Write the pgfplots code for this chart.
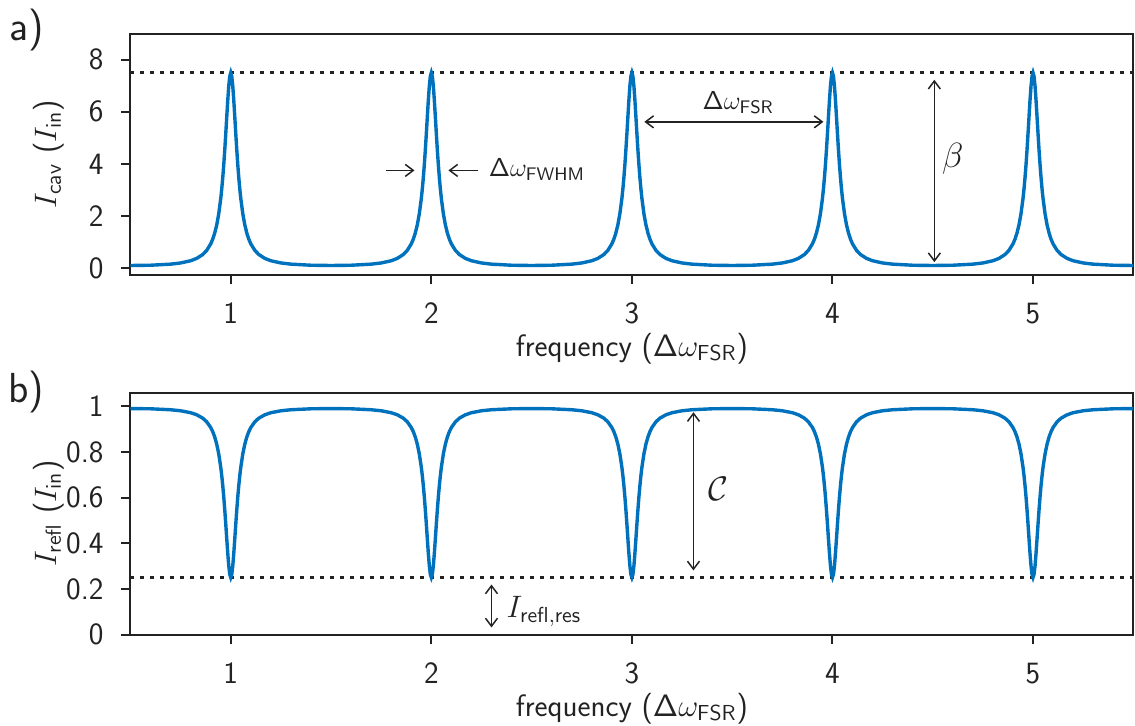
\RequirePackage{fix-cm}
\documentclass[border=0pt]{standalone}
\usepackage{pgfplots}
\pgfplotsset{compat=1.18}
\usepackage{pgfplotstable}
\usetikzlibrary{arrows.meta}
\renewcommand{\familydefault}{\sfdefault}
\definecolor{curve}{HTML}{0072BD}
\definecolor{ink}{HTML}{222222}

% Airy response of the cavity: intracavity and reflected intensity
\pgfplotstableread{
x cav refl
0.5 0.1000 0.9900
0.6 0.1104 0.9890
0.7 0.1517 0.9848
0.75 0.1974 0.9803
0.8 0.2823 0.9718
0.83 0.3718 0.9628
0.86 0.5203 0.9480
0.88 0.6801 0.9320
0.9 0.9298 0.9070
0.91 1.1095 0.8890
0.92 1.3449 0.8655
0.93 1.6588 0.8341
0.94 2.0843 0.7916
0.95 2.6681 0.7332
0.955 3.0375 0.6963
0.96 3.4684 0.6532
0.965 3.9659 0.6034
0.97 4.5307 0.5469
0.975 5.1527 0.4847
0.98 5.8061 0.4194
0.985 6.4421 0.3558
0.99 6.9897 0.3010
0.995 7.3655 0.2634
1.0 7.5000 0.2500
1.005 7.3655 0.2634
1.01 6.9897 0.3010
1.015 6.4421 0.3558
1.02 5.8061 0.4194
1.025 5.1527 0.4847
1.03 4.5307 0.5469
1.035 3.9659 0.6034
1.04 3.4684 0.6532
1.045 3.0375 0.6963
1.05 2.6681 0.7332
1.06 2.0843 0.7916
1.07 1.6588 0.8341
1.08 1.3449 0.8655
1.09 1.1095 0.8890
1.1 0.9298 0.9070
1.12 0.6801 0.9320
1.14 0.5203 0.9480
1.17 0.3718 0.9628
1.2 0.2823 0.9718
1.25 0.1974 0.9803
1.3 0.1517 0.9848
1.4 0.1104 0.9890
1.5 0.1000 0.9900
1.6 0.1104 0.9890
1.7 0.1517 0.9848
1.75 0.1974 0.9803
1.8 0.2823 0.9718
1.83 0.3718 0.9628
1.86 0.5203 0.9480
1.88 0.6801 0.9320
1.9 0.9298 0.9070
1.91 1.1095 0.8890
1.92 1.3449 0.8655
1.93 1.6588 0.8341
1.94 2.0843 0.7916
1.95 2.6681 0.7332
1.955 3.0375 0.6963
1.96 3.4684 0.6532
1.965 3.9659 0.6034
1.97 4.5307 0.5469
1.975 5.1527 0.4847
1.98 5.8061 0.4194
1.985 6.4421 0.3558
1.99 6.9897 0.3010
1.995 7.3655 0.2634
2.0 7.5000 0.2500
2.005 7.3655 0.2634
2.01 6.9897 0.3010
2.015 6.4421 0.3558
2.02 5.8061 0.4194
2.025 5.1527 0.4847
2.03 4.5307 0.5469
2.035 3.9659 0.6034
2.04 3.4684 0.6532
2.045 3.0375 0.6963
2.05 2.6681 0.7332
2.06 2.0843 0.7916
2.07 1.6588 0.8341
2.08 1.3449 0.8655
2.09 1.1095 0.8890
2.1 0.9298 0.9070
2.12 0.6801 0.9320
2.14 0.5203 0.9480
2.17 0.3718 0.9628
2.2 0.2823 0.9718
2.25 0.1974 0.9803
2.3 0.1517 0.9848
2.4 0.1104 0.9890
2.5 0.1000 0.9900
2.6 0.1104 0.9890
2.7 0.1517 0.9848
2.75 0.1974 0.9803
2.8 0.2823 0.9718
2.83 0.3718 0.9628
2.86 0.5203 0.9480
2.88 0.6801 0.9320
2.9 0.9298 0.9070
2.91 1.1095 0.8890
2.92 1.3449 0.8655
2.93 1.6588 0.8341
2.94 2.0843 0.7916
2.95 2.6681 0.7332
2.955 3.0375 0.6963
2.96 3.4684 0.6532
2.965 3.9659 0.6034
2.97 4.5307 0.5469
2.975 5.1527 0.4847
2.98 5.8061 0.4194
2.985 6.4421 0.3558
2.99 6.9897 0.3010
2.995 7.3655 0.2634
3.0 7.5000 0.2500
3.005 7.3655 0.2634
3.01 6.9897 0.3010
3.015 6.4421 0.3558
3.02 5.8061 0.4194
3.025 5.1527 0.4847
3.03 4.5307 0.5469
3.035 3.9659 0.6034
3.04 3.4684 0.6532
3.045 3.0375 0.6963
3.05 2.6681 0.7332
3.06 2.0843 0.7916
3.07 1.6588 0.8341
3.08 1.3449 0.8655
3.09 1.1095 0.8890
3.1 0.9298 0.9070
3.12 0.6801 0.9320
3.14 0.5203 0.9480
3.17 0.3718 0.9628
3.2 0.2823 0.9718
3.25 0.1974 0.9803
3.3 0.1517 0.9848
3.4 0.1104 0.9890
3.5 0.1000 0.9900
3.6 0.1104 0.9890
3.7 0.1517 0.9848
3.75 0.1974 0.9803
3.8 0.2823 0.9718
3.83 0.3718 0.9628
3.86 0.5203 0.9480
3.88 0.6801 0.9320
3.9 0.9298 0.9070
3.91 1.1095 0.8890
3.92 1.3449 0.8655
3.93 1.6588 0.8341
3.94 2.0843 0.7916
3.95 2.6681 0.7332
3.955 3.0375 0.6963
3.96 3.4684 0.6532
3.965 3.9659 0.6034
3.97 4.5307 0.5469
3.975 5.1527 0.4847
3.98 5.8061 0.4194
3.985 6.4421 0.3558
3.99 6.9897 0.3010
3.995 7.3655 0.2634
4.0 7.5000 0.2500
4.005 7.3655 0.2634
4.01 6.9897 0.3010
4.015 6.4421 0.3558
4.02 5.8061 0.4194
4.025 5.1527 0.4847
4.03 4.5307 0.5469
4.035 3.9659 0.6034
4.04 3.4684 0.6532
4.045 3.0375 0.6963
4.05 2.6681 0.7332
4.06 2.0843 0.7916
4.07 1.6588 0.8341
4.08 1.3449 0.8655
4.09 1.1095 0.8890
4.1 0.9298 0.9070
4.12 0.6801 0.9320
4.14 0.5203 0.9480
4.17 0.3718 0.9628
4.2 0.2823 0.9718
4.25 0.1974 0.9803
4.3 0.1517 0.9848
4.4 0.1104 0.9890
4.5 0.1000 0.9900
4.6 0.1104 0.9890
4.7 0.1517 0.9848
4.75 0.1974 0.9803
4.8 0.2823 0.9718
4.83 0.3718 0.9628
4.86 0.5203 0.9480
4.88 0.6801 0.9320
4.9 0.9298 0.9070
4.91 1.1095 0.8890
4.92 1.3449 0.8655
4.93 1.6588 0.8341
4.94 2.0843 0.7916
4.95 2.6681 0.7332
4.955 3.0375 0.6963
4.96 3.4684 0.6532
4.965 3.9659 0.6034
4.97 4.5307 0.5469
4.975 5.1527 0.4847
4.98 5.8061 0.4194
4.985 6.4421 0.3558
4.99 6.9897 0.3010
4.995 7.3655 0.2634
5.0 7.5000 0.2500
5.005 7.3655 0.2634
5.01 6.9897 0.3010
5.015 6.4421 0.3558
5.02 5.8061 0.4194
5.025 5.1527 0.4847
5.03 4.5307 0.5469
5.035 3.9659 0.6034
5.04 3.4684 0.6532
5.045 3.0375 0.6963
5.05 2.6681 0.7332
5.06 2.0843 0.7916
5.07 1.6588 0.8341
5.08 1.3449 0.8655
5.09 1.1095 0.8890
5.1 0.9298 0.9070
5.12 0.6801 0.9320
5.14 0.5203 0.9480
5.17 0.3718 0.9628
5.2 0.2823 0.9718
5.25 0.1974 0.9803
5.3 0.1517 0.9848
5.4 0.1104 0.9890
5.5 0.1000 0.9900
}\spectrum

\begin{document}
\fontsize{13}{15.6}\selectfont
\begin{tikzpicture}[
  arr/.style={-{Straight Barb[length=4pt,width=6pt]}, ink, line width=0.75pt},
  darr/.style={{Straight Barb[length=4pt,width=6pt]}-{Straight Barb[length=4pt,width=6pt]}, ink, line width=0.75pt},
  ref/.style={ink, line width=1.7pt, dash pattern=on 1.7pt off 3.3pt},
  resp/.style={curve, line width=1.7pt},
  big/.style={font=\fontsize{15.5}{18}\selectfont},
]
\pgfplotsset{
  panel/.style={
    scale only axis, width=501.5pt,
    xmin=0.5, xmax=5.5, xtick={1,2,3,4,5},
    axis line style={ink, line width=1pt},
    tick style={ink, line width=1pt},
    tick align=outside, major tick length=4.5pt,
    xtick pos=bottom, ytick pos=left,
    /pgf/number format/assume math mode=true,
    tick label style={text=ink, big},
    xticklabel style={inner sep=0.5pt, yshift=-9pt},
    yticklabel style={xshift=-4.5pt},
    every axis x label/.style={at={(axis description cs:0.5,0)}, anchor=center, inner sep=0.5pt, yshift=-37pt, text=ink, big},
    every axis y label/.style={at={(axis description cs:-0.0818,0.5)}, rotate=90, anchor=center, text=ink, big},
    xlabel={frequency ($\mathsf{\Delta}\omega_{\mathsf{FSR}}$)},
    clip=false,
  },
}
% intracavity intensity
\begin{axis}[panel, at={(0pt,0pt)}, anchor=north west, height=120.5pt,
  ymin=-0.25, ymax=9, ytick={0,2,4,6,8},
  ylabel={$I_{\mathsf{cav}}$ ($I_{\mathsf{in}}$)}]
  \addplot[ref] coordinates {(0.5,7.5) (5.5,7.5)};
  \addplot[resp] table[x=x, y=cav] {\spectrum};
  \draw[arr] (axis cs:1.776,3.75) -- (axis cs:1.916,3.75);
  \draw[arr] (axis cs:2.235,3.75) -- (axis cs:2.085,3.75);
  \node[anchor=base west, inner sep=0pt, text=ink] at (axis cs:2.285,3.5) {$\mathsf{\Delta}\omega_{\mathsf{FWHM}}$};
  \draw[darr] (axis cs:3.062,5.615) -- (axis cs:3.955,5.615);
  \node[anchor=base, inner sep=0pt, text=ink] at (axis cs:3.53,6.08) {$\mathsf{\Delta}\omega_{\mathsf{FSR}}$};
  \draw[darr] (axis cs:4.508,0.23) -- (axis cs:4.508,7.23);
  \node[text=ink, font=\fontsize{17.5}{20}\selectfont] at (axis cs:4.6,4.19) {$\beta$};
  \node[font=\fontsize{21}{24}\selectfont, text=ink, xshift=-52pt, yshift=2pt] at (rel axis cs:0,1) {a)};
\end{axis}
% reflected intensity
\begin{axis}[panel, at={(0pt,-179.5pt)}, anchor=north west, height=121pt,
  ymin=0, ymax=1.06, ytick={0,0.2,0.4,0.6,0.8,1},
  ylabel={$I_{\mathsf{refl}}$ ($I_{\mathsf{in}}$)}]
  \addplot[ref] coordinates {(0.5,0.25) (5.5,0.25)};
  \addplot[resp] table[x=x, y=refl] {\spectrum};
  \draw[darr] (axis cs:3.307,0.281) -- (axis cs:3.307,0.974);
  \node[text=ink, font=\fontsize{17}{20}\selectfont] at (axis cs:3.43,0.64) {$\mathcal{C}$};
  \draw[darr] (axis cs:2.30,0.031) -- (axis cs:2.30,0.219);
  \node[anchor=base west, inner sep=0pt, text=ink, big] at (axis cs:2.374,0.0746) {$I_{\mathsf{refl,res}}$};
  \node[font=\fontsize{21}{24}\selectfont, text=ink, xshift=-52pt, yshift=0.5pt] at (rel axis cs:0,1) {b)};
\end{axis}
\end{tikzpicture}
\end{document}
